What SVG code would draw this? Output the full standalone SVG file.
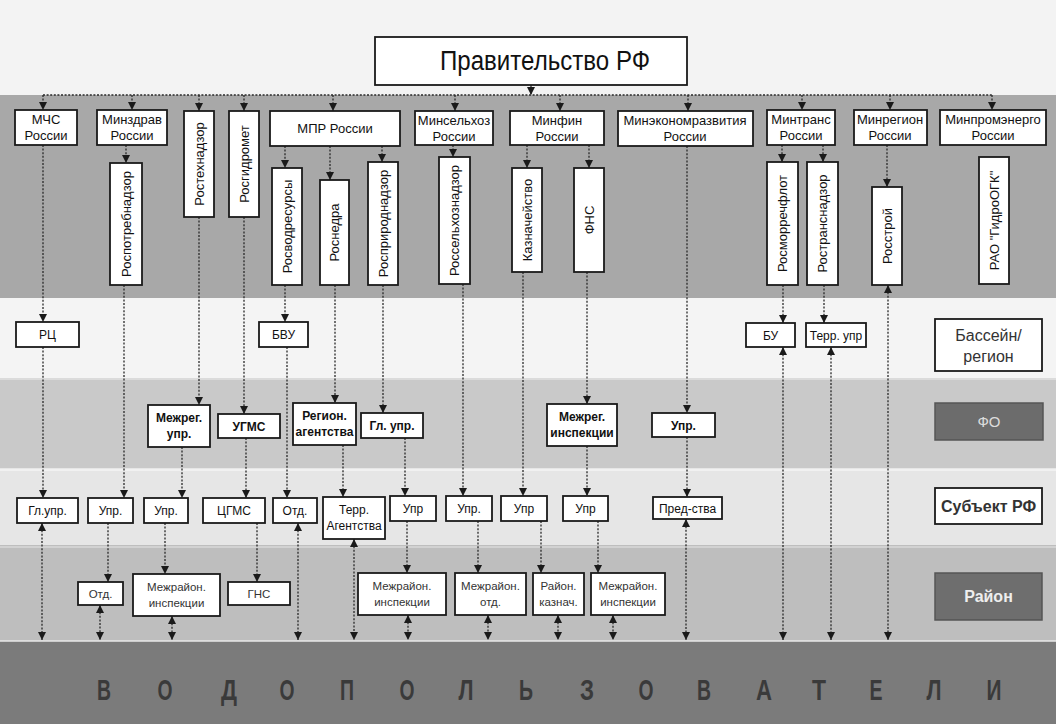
<svg xmlns="http://www.w3.org/2000/svg" width="1056" height="724" viewBox="0 0 1056 724">
<defs>
<style>
.b{fill:#fff;stroke:#1a1a1a;stroke-width:1.8}
.t{font-family:"Liberation Sans",Arial,sans-serif;font-size:13px;fill:#111;text-anchor:middle}
.s{font-size:12px}
.w{font-weight:bold}
.r{font-size:11.5px;fill:#333}
.c{stroke:#2a2a2a;stroke-width:1.3;stroke-dasharray:2 1.6;fill:none}
.L{font-family:"Liberation Sans",Arial,sans-serif;font-size:30px;font-weight:bold;fill:#3a3a3a;text-anchor:middle}
</style>
<marker id="ah" viewBox="0 0 8 8" refX="8" refY="4" markerWidth="8" markerHeight="8" markerUnits="userSpaceOnUse" orient="auto"><path d="M0,0L8,4L0,8z" fill="#1a1a1a"/></marker>
<marker id="as" viewBox="0 0 8 8" refX="8" refY="4" markerWidth="8" markerHeight="8" markerUnits="userSpaceOnUse" orient="auto-start-reverse"><path d="M0,0L8,4L0,8z" fill="#1a1a1a"/></marker>
</defs>
<g id="bands">
<rect x="0" y="0" width="1056" height="95" fill="#f3f3f3"/>
<rect x="0" y="95" width="1056" height="203" fill="#a8a8a8"/>
<rect x="0" y="298" width="1056" height="80" fill="#f4f4f4"/>
<rect x="0" y="378" width="1056" height="90" fill="#c9c9c9"/>
<rect x="0" y="468" width="1056" height="77" fill="#e6e6e6"/>
<rect x="0" y="545" width="1056" height="96" fill="#bebebe"/>
<rect x="0" y="641" width="1056" height="83" fill="#7b7b7b"/>
<line x1="0" y1="379" x2="1056" y2="379" stroke="#e0e0e0" stroke-width="1.5"/>
<line x1="0" y1="470" x2="1056" y2="470" stroke="#f5f5f5" stroke-width="1.5"/>
<line x1="0" y1="547" x2="1056" y2="547" stroke="#d8d8d8" stroke-width="1.5"/>
<line x1="0" y1="641" x2="1056" y2="641" stroke="#e8e8e8" stroke-width="1.5"/>
</g>
<g id="connectors">
<line class="c" x1="531" y1="85" x2="531" y2="95" marker-end="url(#ah)"/>
<line class="c" x1="43" y1="95" x2="992" y2="95"/>
<line class="c" x1="43" y1="95" x2="43" y2="110" marker-end="url(#ah)"/>
<line class="c" x1="132" y1="95" x2="132" y2="110" marker-end="url(#ah)"/>
<line class="c" x1="199" y1="95" x2="199" y2="111" marker-end="url(#ah)"/>
<line class="c" x1="244" y1="95" x2="244" y2="111" marker-end="url(#ah)"/>
<line class="c" x1="333" y1="95" x2="333" y2="111" marker-end="url(#ah)"/>
<line class="c" x1="455" y1="95" x2="455" y2="111" marker-end="url(#ah)"/>
<line class="c" x1="560" y1="95" x2="560" y2="111" marker-end="url(#ah)"/>
<line class="c" x1="688" y1="95" x2="688" y2="111" marker-end="url(#ah)"/>
<line class="c" x1="802" y1="95" x2="802" y2="110" marker-end="url(#ah)"/>
<line class="c" x1="890" y1="95" x2="890" y2="110" marker-end="url(#ah)"/>
<line class="c" x1="992" y1="95" x2="992" y2="110" marker-end="url(#ah)"/>
<line class="c" x1="43" y1="145" x2="43" y2="322" marker-end="url(#ah)"/>
<line class="c" x1="43" y1="347" x2="43" y2="498" marker-end="url(#ah)"/>
<line class="c" x1="42" y1="523" x2="42" y2="640" marker-start="url(#as)" marker-end="url(#ah)"/>
<line class="c" x1="126" y1="145" x2="126" y2="163" marker-end="url(#ah)"/>
<line class="c" x1="124" y1="285" x2="124" y2="498" marker-end="url(#ah)"/>
<line class="c" x1="108" y1="523" x2="108" y2="582" marker-end="url(#ah)"/>
<line class="c" x1="100" y1="605" x2="100" y2="640" marker-start="url(#as)" marker-end="url(#ah)"/>
<line class="c" x1="199" y1="217" x2="199" y2="405" marker-end="url(#ah)"/>
<line class="c" x1="182" y1="447" x2="182" y2="498" marker-end="url(#ah)"/>
<line class="c" x1="165" y1="523" x2="165" y2="574" marker-end="url(#ah)"/>
<line class="c" x1="172" y1="616" x2="172" y2="640" marker-start="url(#as)" marker-end="url(#ah)"/>
<line class="c" x1="244" y1="217" x2="244" y2="414" marker-end="url(#ah)"/>
<line class="c" x1="246" y1="438" x2="246" y2="498" marker-end="url(#ah)"/>
<line class="c" x1="257" y1="523" x2="257" y2="582" marker-end="url(#ah)"/>
<line class="c" x1="285" y1="146" x2="285" y2="168" marker-end="url(#ah)"/>
<line class="c" x1="330" y1="146" x2="330" y2="180" marker-end="url(#ah)"/>
<line class="c" x1="382" y1="146" x2="382" y2="162" marker-end="url(#ah)"/>
<line class="c" x1="285" y1="285" x2="285" y2="322" marker-end="url(#ah)"/>
<line class="c" x1="287" y1="347" x2="287" y2="498" marker-end="url(#ah)"/>
<line class="c" x1="298" y1="523" x2="298" y2="640" marker-start="url(#as)" marker-end="url(#ah)"/>
<line class="c" x1="335" y1="285" x2="335" y2="403" marker-end="url(#ah)"/>
<line class="c" x1="343" y1="445" x2="343" y2="497" marker-end="url(#ah)"/>
<line class="c" x1="354" y1="539" x2="354" y2="640" marker-start="url(#as)" marker-end="url(#ah)"/>
<line class="c" x1="383" y1="285" x2="383" y2="413" marker-end="url(#ah)"/>
<line class="c" x1="405" y1="438" x2="405" y2="496" marker-end="url(#ah)"/>
<line class="c" x1="407" y1="521" x2="407" y2="573" marker-end="url(#ah)"/>
<line class="c" x1="408" y1="615" x2="408" y2="640" marker-start="url(#as)" marker-end="url(#ah)"/>
<line class="c" x1="453" y1="145" x2="453" y2="157" marker-end="url(#ah)"/>
<line class="c" x1="463" y1="284" x2="463" y2="496" marker-end="url(#ah)"/>
<line class="c" x1="478" y1="521" x2="478" y2="573" marker-end="url(#ah)"/>
<line class="c" x1="488" y1="615" x2="488" y2="640" marker-start="url(#as)" marker-end="url(#ah)"/>
<line class="c" x1="527" y1="145" x2="527" y2="168" marker-end="url(#ah)"/>
<line class="c" x1="589" y1="145" x2="589" y2="168" marker-end="url(#ah)"/>
<line class="c" x1="523" y1="272" x2="523" y2="496" marker-end="url(#ah)"/>
<line class="c" x1="541" y1="521" x2="541" y2="573" marker-end="url(#ah)"/>
<line class="c" x1="558" y1="615" x2="558" y2="640" marker-start="url(#as)" marker-end="url(#ah)"/>
<line class="c" x1="587" y1="272" x2="587" y2="404" marker-end="url(#ah)"/>
<line class="c" x1="587" y1="446" x2="587" y2="496" marker-end="url(#ah)"/>
<line class="c" x1="598" y1="521" x2="598" y2="573" marker-end="url(#ah)"/>
<line class="c" x1="613" y1="615" x2="613" y2="640" marker-start="url(#as)" marker-end="url(#ah)"/>
<line class="c" x1="687" y1="146" x2="687" y2="413" marker-end="url(#ah)"/>
<line class="c" x1="687" y1="437" x2="687" y2="497" marker-end="url(#ah)"/>
<line class="c" x1="686" y1="519" x2="686" y2="640" marker-start="url(#as)" marker-end="url(#ah)"/>
<line class="c" x1="782" y1="145" x2="782" y2="162" marker-end="url(#ah)"/>
<line class="c" x1="823" y1="145" x2="823" y2="162" marker-end="url(#ah)"/>
<line class="c" x1="783" y1="285" x2="783" y2="323" marker-end="url(#ah)"/>
<line class="c" x1="783" y1="347" x2="783" y2="640" marker-start="url(#as)" marker-end="url(#ah)"/>
<line class="c" x1="824" y1="285" x2="824" y2="323" marker-end="url(#ah)"/>
<line class="c" x1="831" y1="347" x2="831" y2="640" marker-start="url(#as)" marker-end="url(#ah)"/>
<line class="c" x1="887" y1="145" x2="887" y2="187" marker-end="url(#ah)"/>
<line class="c" x1="888" y1="285" x2="888" y2="640" marker-start="url(#as)" marker-end="url(#ah)"/>
</g>
<g id="gov"><rect class="b" x="375" y="37" width="312" height="48" stroke-width="2.2"/><text class="t" x="545" y="70" font-size="27" textLength="210" lengthAdjust="spacingAndGlyphs" style="font-size:27px">Правительство РФ</text></g>
<g id="mchs"><rect class="b" x="15" y="110" width="62" height="35"/><text class="t" x="46" y="124">МЧС</text><text class="t" x="46" y="140">России</text></g>
<g id="minzdrav"><rect class="b" x="97" y="110" width="70" height="35"/><text class="t" x="132" y="124">Минздрав</text><text class="t" x="132" y="140">России</text></g>
<g id="rostekhnadzor"><rect class="b" x="184" y="111" width="30" height="106"/><text class="t" transform="translate(199,164) rotate(-90)" dy="0.36em">Ростехнадзор</text></g>
<g id="rosgidromet"><rect class="b" x="229" y="111" width="30" height="106"/><text class="t" transform="translate(244,164) rotate(-90)" dy="0.36em">Росгидромет</text></g>
<g id="mpr"><rect class="b" x="270" y="111" width="130" height="35"/><text class="t" x="335" y="133">МПР России</text></g>
<g id="minselhoz"><rect class="b" x="415" y="111" width="78" height="34"/><text class="t" x="454" y="125">Минсельхоз</text><text class="t" x="454" y="141">России</text></g>
<g id="minfin"><rect class="b" x="510" y="111" width="94" height="34"/><text class="t" x="557" y="125">Минфин</text><text class="t" x="557" y="141">России</text></g>
<g id="mineconom"><rect class="b" x="618" y="111" width="135" height="35"/><text class="t" x="685" y="125">Минэкономразвития</text><text class="t" x="685" y="141">России</text></g>
<g id="mintrans"><rect class="b" x="767" y="110" width="68" height="35"/><text class="t" x="801" y="124">Минтранс</text><text class="t" x="801" y="140">России</text></g>
<g id="minregion"><rect class="b" x="854" y="110" width="73" height="35"/><text class="t" x="890" y="124">Минрегион</text><text class="t" x="890" y="140">России</text></g>
<g id="minpromenergo"><rect class="b" x="940" y="110" width="106" height="35"/><text class="t" x="993" y="124">Минпромэнерго</text><text class="t" x="993" y="140">России</text></g>
<g id="rospotrebnadzor"><rect class="b" x="110" y="163" width="32" height="122"/><text class="t" transform="translate(126,224) rotate(-90)" dy="0.36em">Роспотребнадзор</text></g>
<g id="rosvodresursy"><rect class="b" x="272" y="168" width="30" height="117"/><text class="t" transform="translate(287,226.5) rotate(-90)" dy="0.36em">Росводресурсы</text></g>
<g id="rosnedra"><rect class="b" x="320" y="180" width="29" height="105"/><text class="t" transform="translate(334.5,232.5) rotate(-90)" dy="0.36em">Роснедра</text></g>
<g id="rosprirodnadzor"><rect class="b" x="368" y="162" width="30" height="123"/><text class="t" transform="translate(383,223.5) rotate(-90)" dy="0.36em">Росприроднадзор</text></g>
<g id="rosselhoznadzor"><rect class="b" x="439" y="157" width="31" height="127"/><text class="t" transform="translate(454.5,220.5) rotate(-90)" dy="0.36em">Россельхознадзор</text></g>
<g id="kaznacheystvo"><rect class="b" x="512" y="168" width="30" height="104"/><text class="t" transform="translate(527,220) rotate(-90)" dy="0.36em">Казначейство</text></g>
<g id="fns"><rect class="b" x="574" y="168" width="30" height="104"/><text class="t" transform="translate(589,220) rotate(-90)" dy="0.36em">ФНС</text></g>
<g id="rosmorrechflot"><rect class="b" x="767" y="162" width="31" height="123"/><text class="t" transform="translate(782.5,223.5) rotate(-90)" dy="0.36em">Росморречфлот</text></g>
<g id="rostransnadzor"><rect class="b" x="807" y="162" width="31" height="123"/><text class="t" transform="translate(822.5,223.5) rotate(-90)" dy="0.36em">Ространснадзор</text></g>
<g id="rosstroy"><rect class="b" x="872" y="187" width="30" height="98"/><text class="t" transform="translate(887,236) rotate(-90)" dy="0.36em">Росстрой</text></g>
<g id="rao"><rect class="b" x="979" y="157" width="30" height="127"/><text class="t" transform="translate(994,220.5) rotate(-90)" dy="0.36em">РАО "ГидроОГК"</text></g>
<g id="rc"><rect class="b" x="16" y="322" width="63" height="25"/><text class="t s" x="47.5" y="339">РЦ</text></g>
<g id="bvu"><rect class="b" x="259" y="322" width="49" height="25"/><text class="t s" x="283.5" y="339">БВУ</text></g>
<g id="bu"><rect class="b" x="746" y="323" width="49" height="24"/><text class="t s" x="770.5" y="339.5">БУ</text></g>
<g id="terr-upr"><rect class="b" x="806" y="323" width="60" height="24"/><text class="t s" x="836" y="339.5">Терр. упр</text></g>
<g id="lvl-basin"><rect class="b" x="935" y="319" width="107" height="52" stroke="#333"/><text class="t" x="988.5" y="341" style="font-size:16px;fill:#333">Бассейн/</text><text class="t" x="988.5" y="362" style="font-size:16px;fill:#333">регион</text></g>
<g id="mezhreg-upr"><rect class="b" x="148" y="405" width="62" height="42"/><text class="t s w" x="179" y="422">Межрег.</text><text class="t s w" x="179" y="438">упр.</text></g>
<g id="ugms"><rect class="b" x="218" y="414" width="62" height="24"/><text class="t s w" x="249" y="430.5">УГМС</text></g>
<g id="region-ag"><rect class="b" x="293" y="403" width="63" height="42"/><text class="t s w" x="324.5" y="420">Регион.</text><text class="t s w" x="324.5" y="436">агентства</text></g>
<g id="gl-upr-fo"><rect class="b" x="361" y="413" width="62" height="25"/><text class="t s w" x="392" y="430">Гл. упр.</text></g>
<g id="mezhreg-insp"><rect class="b" x="547" y="404" width="70" height="42"/><text class="t s w" x="582" y="421">Межрег.</text><text class="t s w" x="582" y="437">инспекции</text></g>
<g id="upr-fo"><rect class="b" x="652" y="413" width="63" height="24"/><text class="t s w" x="683.5" y="429.5">Упр.</text></g>
<g id="lvl-fo"><rect x="935" y="403" width="108" height="37" fill="#6c6c6c" stroke="#555" stroke-width="1.5"/><text class="t" x="989" y="427" style="font-size:15px;fill:#dcdcdc">ФО</text></g>
<g id="gl-upr-s"><rect class="b" x="17" y="498" width="61" height="25"/><text class="t s" x="47.5" y="515">Гл.упр.</text></g>
<g id="upr-zdrav"><rect class="b" x="88" y="498" width="45" height="25"/><text class="t s" x="110.5" y="515">Упр.</text></g>
<g id="upr-tekh"><rect class="b" x="144" y="498" width="44" height="25"/><text class="t s" x="166" y="515">Упр.</text></g>
<g id="cgms"><rect class="b" x="203" y="498" width="62" height="25"/><text class="t s" x="234" y="515">ЦГМС</text></g>
<g id="otd-bvu"><rect class="b" x="273" y="498" width="44" height="25"/><text class="t s" x="295" y="515">Отд.</text></g>
<g id="terr-ag"><rect class="b" x="323" y="497" width="62" height="42"/><text class="t s" x="354" y="514">Терр.</text><text class="t s" x="354" y="530">Агентства</text></g>
<g id="upr-prirod"><rect class="b" x="390" y="496" width="46" height="25"/><text class="t s" x="413" y="513">Упр</text></g>
<g id="upr-selhoz"><rect class="b" x="446" y="496" width="46" height="25"/><text class="t s" x="469" y="513">Упр.</text></g>
<g id="upr-kazna"><rect class="b" x="501" y="496" width="46" height="25"/><text class="t s" x="524" y="513">Упр</text></g>
<g id="upr-fns"><rect class="b" x="563" y="496" width="45" height="25"/><text class="t s" x="585.5" y="513">Упр</text></g>
<g id="predstva"><rect class="b" x="653" y="497" width="69" height="22"/><text class="t s" x="687.5" y="512.5">Пред-ства</text></g>
<g id="lvl-subject"><rect class="b" x="935" y="488" width="107" height="36" stroke="#333" stroke-width="2.2"/><text class="t w" x="988.5" y="512" style="font-size:16px;fill:#333">Субъект РФ</text></g>
<g id="otd-zdrav"><rect class="b" x="78" y="582" width="45" height="23"/><text class="t r" x="100.5" y="598">Отд.</text></g>
<g id="mezhrayon-tekh"><rect class="b" x="133" y="574" width="87" height="42"/><text class="t r" x="176.5" y="591">Межрайон.</text><text class="t r" x="176.5" y="607">инспекции</text></g>
<g id="gns"><rect class="b" x="228" y="582" width="62" height="23"/><text class="t r" x="259" y="598">ГНС</text></g>
<g id="mezhrayon-prirod"><rect class="b" x="358" y="573" width="88" height="42"/><text class="t r" x="402" y="590">Межрайон.</text><text class="t r" x="402" y="606">инспекции</text></g>
<g id="mezhrayon-otd"><rect class="b" x="455" y="573" width="71" height="42"/><text class="t r" x="490.5" y="590">Межрайон.</text><text class="t r" x="490.5" y="606">отд.</text></g>
<g id="rayon-kazn"><rect class="b" x="533" y="573" width="51" height="42"/><text class="t r" x="558.5" y="590">Район.</text><text class="t r" x="558.5" y="606">казнач.</text></g>
<g id="mezhrayon-fns"><rect class="b" x="591" y="573" width="74" height="42"/><text class="t r" x="628" y="590">Межрайон.</text><text class="t r" x="628" y="606">инспекции</text></g>
<g id="lvl-rayon"><rect x="935" y="573" width="107" height="47" fill="#6e6e6e" stroke="#555" stroke-width="1.5"/><text class="t w" x="988.5" y="602" style="font-size:16px;fill:#eeeeee">Район</text></g>
<g id="users">
<text class="L" x="104" y="700" textLength="14" lengthAdjust="spacingAndGlyphs">В</text>
<text class="L" x="165" y="700" textLength="15" lengthAdjust="spacingAndGlyphs">О</text>
<text class="L" x="229" y="700" textLength="16" lengthAdjust="spacingAndGlyphs">Д</text>
<text class="L" x="287" y="700" textLength="15" lengthAdjust="spacingAndGlyphs">О</text>
<text class="L" x="347" y="700" textLength="14" lengthAdjust="spacingAndGlyphs">П</text>
<text class="L" x="407" y="700" textLength="15" lengthAdjust="spacingAndGlyphs">О</text>
<text class="L" x="466" y="700" textLength="15" lengthAdjust="spacingAndGlyphs">Л</text>
<text class="L" x="526" y="700" textLength="14" lengthAdjust="spacingAndGlyphs">Ь</text>
<text class="L" x="587" y="700" textLength="14" lengthAdjust="spacingAndGlyphs">З</text>
<text class="L" x="646" y="700" textLength="15" lengthAdjust="spacingAndGlyphs">О</text>
<text class="L" x="704" y="700" textLength="14" lengthAdjust="spacingAndGlyphs">В</text>
<text class="L" x="764" y="700" textLength="16" lengthAdjust="spacingAndGlyphs">А</text>
<text class="L" x="819" y="700" textLength="14" lengthAdjust="spacingAndGlyphs">Т</text>
<text class="L" x="876" y="700" textLength="13" lengthAdjust="spacingAndGlyphs">Е</text>
<text class="L" x="934" y="700" textLength="15" lengthAdjust="spacingAndGlyphs">Л</text>
<text class="L" x="994" y="700" textLength="15" lengthAdjust="spacingAndGlyphs">И</text>
</g>
</svg>
